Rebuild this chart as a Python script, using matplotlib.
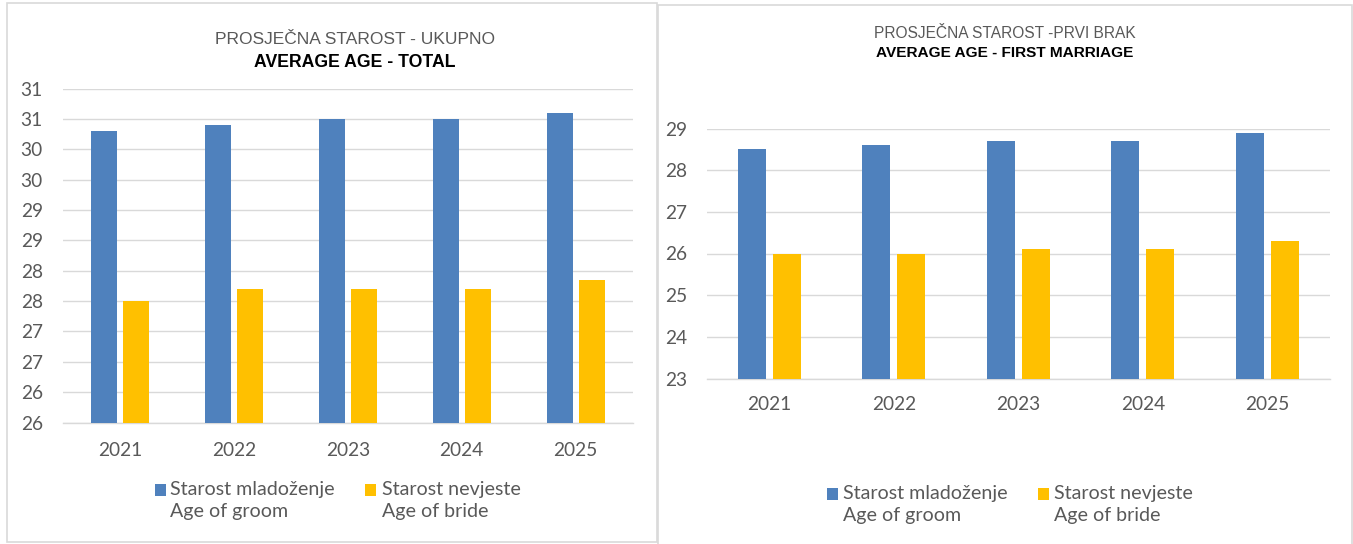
import matplotlib
matplotlib.use("Agg")
import matplotlib.pyplot as plt
from matplotlib.patches import Rectangle
import numpy as np

# ---- data ----
years = ["2021", "2022", "2023", "2024", "2025"]
groom_total = [30.3, 30.4, 30.5, 30.5, 30.6]
bride_total = [27.5, 27.7, 27.7, 27.7, 27.85]
groom_first = [28.5, 28.6, 28.7, 28.7, 28.9]
bride_first = [26.0, 26.0, 26.1, 26.1, 26.3]

total_ticks = [25.5, 26.0, 26.5, 27.0, 27.5, 28.0, 28.5, 29.0, 29.5, 30.0, 30.5, 31.0]
total_ticklabels = ["26", "26", "27", "27", "28", "28", "29", "29", "30", "30", "31", "31"]
first_ticks = [23, 24, 25, 26, 27, 28, 29]
first_ticklabels = ["23", "24", "25", "26", "27", "28", "29"]

series_hr = ["Starost mladoženje", "Starost nevjeste"]
series_en = ["Age of groom", "Age of bride"]

title_total = ("PROSJEČNA STAROST - UKUPNO", "AVERAGE AGE - TOTAL")
title_first = ("PROSJEČNA STAROST -PRVI BRAK", "AVERAGE AGE - FIRST MARRIAGE")

BLUE = "#4F81BD"
GOLD = "#FFC000"
GRID = "#D9D9D9"
TXT = "#595959"
W, H = 1353, 544

TITLE_FONT = ["Liberation Sans", "DejaVu Sans"]
BODY_FONT = ["Lato", "DejaVu Sans"]

fig = plt.figure(figsize=(W / 100, H / 100), dpi=100)
fig.patch.set_facecolor("white")


def fx(px):
    return px / W


def fy(py):
    return 1 - py / H


# panel borders
fig.patches.append(Rectangle((fx(7), fy(541.5)), fx(656.5) - fx(7), fy(3) - fy(541.5),
                             transform=fig.transFigure, fill=False, edgecolor=GRID, lw=1.2))
fig.patches.append(Rectangle((fx(657.5), fy(546)), fx(1352) - fx(657.5), fy(5) - fy(546),
                             transform=fig.transFigure, fill=False, edgecolor=GRID, lw=1.2, clip_on=False))


def make_panel(rect, g, b, ticks, ticklabels, ylim, xpad, ypad):
    ax = fig.add_axes(rect)
    x = np.arange(len(years))
    w = 0.228
    off = 0.141
    ax.bar(x - off, g, width=w, color=BLUE, zorder=3)
    ax.bar(x + off, b, width=w, color=GOLD, zorder=3)
    ax.set_xlim(-0.5, len(years) - 0.5)
    ax.set_ylim(*ylim)
    ax.set_yticks(ticks)
    ax.set_yticklabels(ticklabels)
    ax.set_xticks(x)
    ax.set_xticklabels(years)
    for s in ["top", "right", "left"]:
        ax.spines[s].set_visible(False)
    ax.spines["bottom"].set_color(GRID)
    ax.spines["bottom"].set_linewidth(1.0)
    ax.grid(axis="y", color=GRID, lw=1.0, zorder=0)
    ax.set_axisbelow(True)
    ax.tick_params(axis="both", length=0, colors=TXT, labelsize=13.8)
    ax.tick_params(axis="y", pad=ypad)
    ax.tick_params(axis="x", pad=xpad)
    for lab in ax.get_xticklabels() + ax.get_yticklabels():
        lab.set_family(BODY_FONT)
    ax.set_facecolor("none")
    return ax


make_panel([fx(63), fy(422.6), fx(632.6) - fx(63), fy(88.5) - fy(422.6)],
           groom_total, bride_total, total_ticks, total_ticklabels, (25.5, 31.0), 14, 14.5)
make_panel([fx(707), fy(378.5), fx(1329.5) - fx(707), fy(128.5) - fy(378.5)],
           groom_first, bride_first, first_ticks, first_ticklabels, (23, 29), 12.5, 14)

# titles
fig.text(fx(354.6), fy(44.4), title_total[0], ha="center", va="baseline", color=TXT,
         fontsize=12.5, family=TITLE_FONT)
fig.text(fx(354.6), fy(66.7), title_total[1], ha="center", va="baseline", color="black",
         fontsize=12.7, fontweight="bold", family=TITLE_FONT)
fig.text(fx(1004.5), fy(37.5), title_first[0], ha="center", va="baseline", color=TXT,
         fontsize=11.2, family=TITLE_FONT)
fig.text(fx(1005), fy(56.6), title_first[1], ha="center", va="baseline", color="black",
         fontsize=11.1, fontweight="bold", family=TITLE_FONT)


# legends (manual, two-line labels)
def legend(sq_x, txt_x, sq_top, sq_bot, base1, base2):
    for i, col in enumerate([BLUE, GOLD]):
        fig.patches.append(Rectangle((fx(sq_x[i]), fy(sq_bot)), fx(11), fy(sq_top) - fy(sq_bot),
                                     transform=fig.transFigure, color=col, lw=0))
        fig.text(fx(txt_x[i]), fy(base1), series_hr[i], ha="left", va="baseline",
                 color=TXT, fontsize=14.1, family=BODY_FONT)
        fig.text(fx(txt_x[i]), fy(base2), series_en[i], ha="left", va="baseline",
                 color=TXT, fontsize=14.1, family=BODY_FONT)


legend([154.5, 365.3], [170.5, 381.7], 484, 496, 495, 516.5)
legend([826.5, 1037.5], [843.3, 1054.4], 488, 499.5, 499, 521)

fig.savefig("out.png", dpi=100)
